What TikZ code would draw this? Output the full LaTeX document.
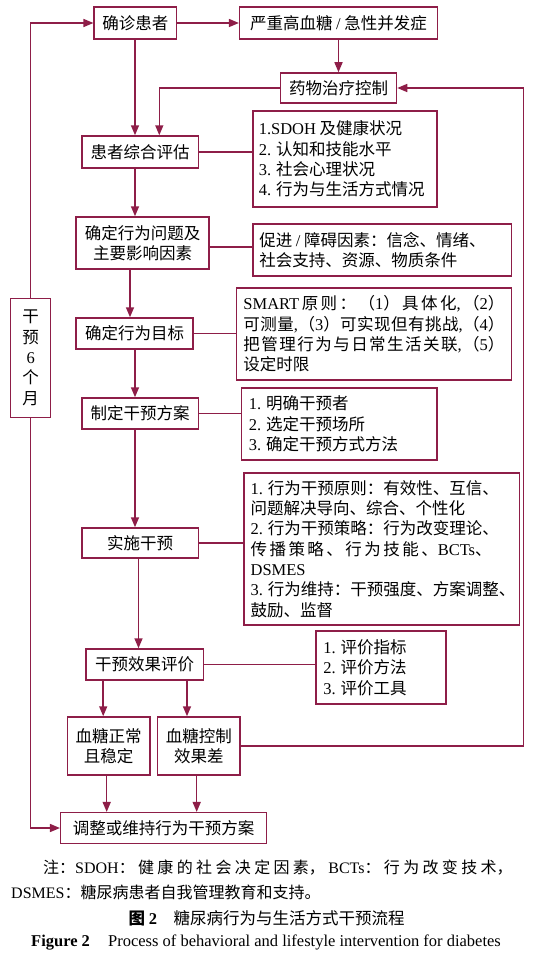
\documentclass[tikz,border=0pt]{standalone}
\usepackage{fontspec}
\setmainfont{Liberation Serif}
\newfontfamily\cjk{Noto Sans CJK SC}
\usetikzlibrary{arrows.meta,calc}
\definecolor{dred}{RGB}{142,30,72}
\newcommand\lt[1]{{\rmfamily #1}}
\newcommand\gl{\hskip 0pt plus 1fil minus 1pt}
\newlength\wa
\begin{document}
\begin{tikzpicture}[x=1pt,y=-1pt,
  bx/.style={draw=dred,line width=1.5pt,fill=white,inner sep=0pt,align=center,font=\cjk\fontsize{16.5}{20.3}\selectfont},
  tx/.style={inner sep=0pt,anchor=west,align=left,font=\cjk\fontsize{16.5}{20.3}\selectfont},
  ar/.style={draw=dred,line width=1.5pt,-{Triangle[length=10pt,width=8pt]}},
  ln/.style={draw=dred,line width=1.5pt}]
\useasboundingbox (0,0) rectangle (543,966);
\settowidth\wa{\cjk\fontsize{16.5}{20.3}\selectfont\lt{2.} 行为干预策略：行为改变理论、}
% x positions of the vertical connectors
\coordinate (xa) at (135,0);
\coordinate (xb) at (130,0);
\coordinate (xc) at (138.5,0);
\coordinate (xd) at (103.2,0);
\coordinate (xe) at (187,0);
\coordinate (xf) at (106.7,0);
\coordinate (xg) at (196.7,0);
\coordinate (xh) at (159.3,0);
\coordinate (rx) at (523.3,0);
% flow boxes
\node[bx,minimum width=82.4pt,minimum height=32pt] (diag) at (135.4,23) {确诊患者};
\node[bx,minimum width=197.7pt,minimum height=32pt] (severe) at (338.5,23) {严重高血糖 \lt{/} 急性并发症};
\node[bx,minimum width=116pt,minimum height=30pt] (drug) at (338.5,88) {药物治疗控制};
\node[bx,minimum width=116.4pt,minimum height=32pt] (assess) at (140.2,152) {患者综合评估};
\node[bx,minimum width=132.6pt,minimum height=52pt] (problem) at (142.5,243) {确定行为问题及\\主要影响因素};
\node[bx,minimum width=117pt,minimum height=31pt] (goal) at (134.7,333.5) {确定行为目标};
\node[bx,minimum width=116.4pt,minimum height=31pt] (plan) at (140.2,413.5) {制定干预方案};
\node[bx,minimum width=116.4pt,minimum height=30pt] (impl) at (140.2,543) {实施干预};
\node[bx,minimum width=117.4pt,minimum height=31pt] (eval) at (144.6,664.5) {干预效果评价};
\node[bx,minimum width=82.4pt,minimum height=58pt] (normal) at (108.7,746) {血糖正常\\且稳定};
\node[bx,minimum width=82.5pt,minimum height=58pt] (poor) at (198.8,746) {血糖控制\\效果差};
\node[bx,minimum width=206pt,minimum height=30.6pt] (adjust) at (163.7,828) {调整或维持行为干预方案};
\node[bx,minimum width=40pt,minimum height=119pt] (months) at (30.7,357.8) {干\\预\\\lt{6}\\个\\月};
% information boxes
\node[bx,minimum width=184.2pt,minimum height=96pt] (info1) at (344.9,159) {};
\node[bx,minimum width=258.6pt,minimum height=52pt] (info2) at (382.1,250) {};
\node[bx,minimum width=275pt,minimum height=92pt] (info3) at (374,334) {};
\node[bx,minimum width=195.7pt,minimum height=72pt] (info4) at (339.2,424) {};
\node[bx,minimum width=275.3pt,minimum height=152pt] (info5) at (381.8,549) {};
\node[bx,minimum width=130.2pt,minimum height=73pt] (info6) at (380.9,667.5) {};
\node[tx] (t1) at ([xshift=6.5pt]info1.west) {\lt{1.SDOH} 及健康状况\\\lt{2.} 认知和技能水平\\\lt{3.} 社会心理状况\\\lt{4.} 行为与生活方式情况};
\node[tx] (t2) at ([xshift=7pt]info2.west) {促进 \lt{/} 障碍因素：信念、情绪、\\社会支持、资源、物质条件};
\node[tx] (t3) at ([xshift=7.5pt]info3.west) {\makebox[261pt][s]{\lt{SMART}\gl 原\gl 则\gl ：\gl （\lt{1}）\gl 具\gl 体\gl 化\lt{,}\gl （\lt{2}）}\\\makebox[261pt][s]{可\gl 测\gl 量\lt{,}\gl （\lt{3}）\gl 可\gl 实\gl 现\gl 但\gl 有\gl 挑\gl 战\lt{,}\gl （\lt{4}）}\\\makebox[261pt][s]{把\gl 管\gl 理\gl 行\gl 为\gl 与\gl 日\gl 常\gl 生\gl 活\gl 关\gl 联\lt{,}\gl （\lt{5}）}\\设定时限};
\node[tx] (t4) at ([xshift=8pt]info4.west) {\lt{1.} 明确干预者\\\lt{2.} 选定干预场所\\\lt{3.} 确定干预方式方法};
\node[tx] (t5) at ([xshift=7pt]info5.west) {\lt{1.} 行为干预原则：有效性、互信、\\问题解决导向、综合、个性化\\\lt{2.} 行为干预策略：行为改变理论、\\\makebox[\wa][s]{传 播 策 略 、 行 为 技 能 、\lt{BCTs}、}\\\lt{DSMES}\\\lt{3.} 行为维持：干预强度、方案调整、\\鼓励、监督};
\node[tx] (t6) at ([xshift=8pt]info6.west) {\lt{1.} 评价指标\\\lt{2.} 评价方法\\\lt{3.} 评价工具};
% connectors
\draw[ar] (diag.east) -- (severe.west);
\draw[ar] (severe.south) -- (drug.north);
\draw[ar] (diag.south -| xa) -- (assess.north -| xa);
\draw[ar] (drug.west) -| (xh |- assess.north);
\draw[ar] (assess.south -| xa) -- (problem.north -| xa);
\draw[ar] (problem.south -| xb) -- (goal.north -| xb);
\draw[ar] (goal.south -| xa) -- (plan.north -| xa);
\draw[ar] (plan.south -| xa) -- (impl.north -| xa);
\draw[ar] (impl.south -| xc) -- (eval.north -| xc);
\draw[ar] (eval.south -| xd) -- (normal.north -| xd);
\draw[ar] (eval.south -| xe) -- (poor.north -| xe);
\draw[ar] (normal.south -| xf) -- (adjust.north -| xf);
\draw[ar] (poor.south -| xg) -- (adjust.north -| xg);
\draw[ar] (poor.east) -| (rx |- drug.east) -- (drug.east);
\draw[ar] (months.north) |- (diag.west);
\draw[ar] (months.south) |- (adjust.west);
\draw[ln] (assess.east) -- (assess.east -| info1.west);
\draw[ln] ([yshift=-4pt]problem.east) -- ([yshift=-4pt]problem.east -| info2.west);
\draw[ln] (goal.east) -- (goal.east -| info3.west);
\draw[ln] (plan.east) -- (plan.east -| info4.west);
\draw[ln] (impl.east) -- (impl.east -| info5.west);
\draw[ln] (eval.east) -- (eval.east -| info6.west);
% captions
\node[anchor=west,inner sep=0pt,font=\cjk\fontsize{16}{16}\selectfont] (note1) at (43,868) {\makebox[469.5pt][s]{注：\lt{SDOH}： 健 康 的 社 会 决 定 因 素， \lt{BCTs}： 行 为 改 变 技 术，}};
\node[anchor=west,inner sep=0pt,font=\cjk\fontsize{16}{16}\selectfont] (note2) at (11,892) {\lt{DSMES}：糖尿病患者自我管理教育和支持。};
\node[inner sep=0pt,font=\cjk\fontsize{16.5}{17}\selectfont] (cap1) at (266.7,918) {{\bfseries 图 \lt{2}}\hspace{1em}糖尿病行为与生活方式干预流程};
\node[inner sep=0pt,font=\rmfamily\fontsize{16.5}{17}\selectfont] (cap2) at (266,942) {{\bfseries Figure 2}\hspace{1.1em}Process of behavioral and lifestyle intervention for diabetes};
\end{tikzpicture}
\end{document}
